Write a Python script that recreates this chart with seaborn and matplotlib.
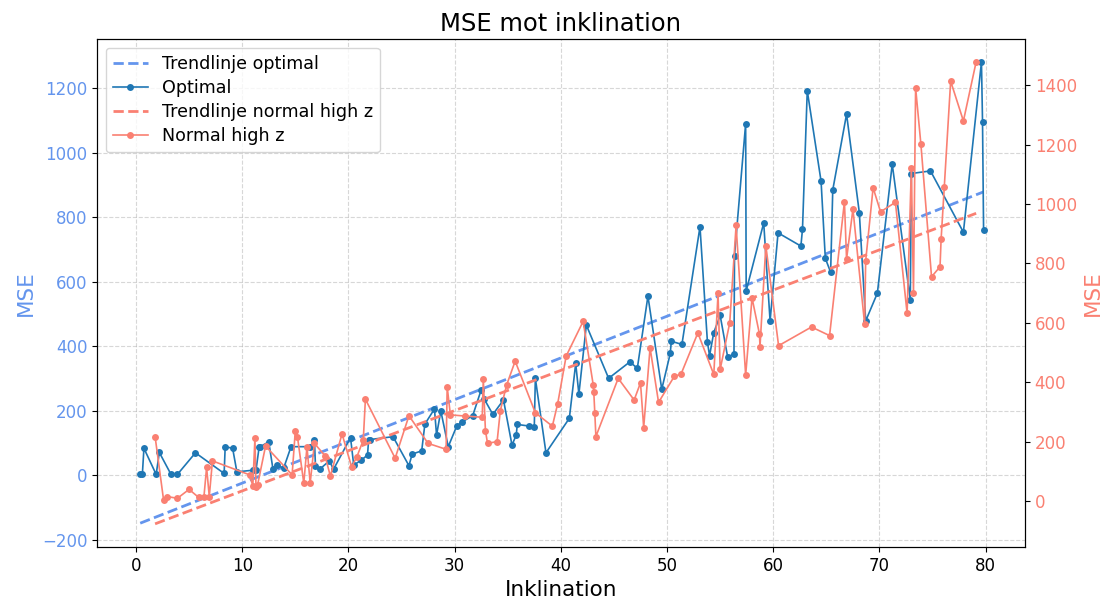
import numpy as np
import pandas as pd
import seaborn as sns
import matplotlib.pyplot as plt

# Optimal (left axis)
opt_x = [0.4, 0.6, 0.75, 1.9, 2.2, 3.3, 3.9, 5.6, 8.3, 8.4, 9.1, 9.5, 11.0, 11.3, 11.6, 11.7,
         12.5, 12.9, 13.3, 13.9, 14.6, 16.4, 16.8, 16.9, 17.3, 18.2, 18.6, 20.2, 20.5, 21.2,
         21.8, 21.9, 22.0, 24.2, 25.7, 26.0, 26.9, 27.2, 28.1, 28.3, 28.7, 29.4, 30.2, 30.7,
         31.7, 32.5, 32.8, 33.6, 34.6, 35.4, 35.8, 35.9, 37.0, 37.5, 37.6, 38.6, 40.8, 41.4,
         41.7, 42.4, 44.5, 46.5, 47.2, 48.2, 49.5, 50.3, 50.4, 51.4, 53.1, 53.8, 54.0, 54.4,
         55.0, 55.7, 56.3, 56.35, 57.4, 57.45, 59.1, 59.7, 60.45, 62.6, 62.75, 63.2, 64.5,
         64.9, 65.4, 65.6, 66.9, 68.1, 68.7, 69.8, 71.2, 72.9, 73.0, 74.8, 77.9, 79.6, 79.7, 79.8]
opt_mse = [2, 2, 83, 2, 70, 2, 2, 69, 5, 88, 83, 10, 15, 15, 88, 88,
           103, 18, 31, 21, 88, 88, 110, 28, 18, 44, 18, 116, 31, 46,
           62, 108, 110, 119, 29, 65, 75, 158, 205, 124, 199, 88, 152, 165,
           184, 264, 235, 188, 233, 93, 124, 157, 152, 150, 300, 69, 176, 346,
           251, 465, 300, 351, 331, 555, 266, 377, 415, 405, 770, 413, 370, 442,
           495, 367, 374, 680, 1090, 571, 782, 478, 751, 710, 762, 1192, 911,
           672, 629, 884, 1119, 814, 478, 564, 964, 543, 935, 943, 753, 1281, 1096, 760]

# Normal high z (right axis)
high_x = [1.8, 2.6, 2.9, 3.9, 5.0, 5.9, 6.4, 6.65, 6.9, 7.2, 10.7, 11.0, 11.2, 11.3, 11.45,
          12.2, 14.7, 15.0, 15.2, 15.8, 16.1, 16.4, 16.8, 17.8, 18.3, 19.4, 20.3, 20.8, 21.4,
          21.6, 24.4, 25.7, 27.5, 29.2, 29.3, 29.6, 31.0, 32.6, 32.7, 32.9, 33.1, 34.0, 34.3,
          34.9, 35.7, 37.6, 39.2, 39.7, 40.5, 42.1, 43.05, 43.1, 43.2, 43.3, 45.4, 46.9, 47.5,
          47.8, 48.4, 49.2, 50.7, 51.3, 52.9, 54.4, 54.8, 55.0, 55.9, 56.5, 57.4, 58.0, 58.7,
          58.75, 59.3, 60.5, 63.6, 65.3, 66.7, 66.9, 67.5, 68.6, 68.7, 69.4, 70.1, 71.5, 72.6,
          73.0, 73.2, 73.4, 73.9, 74.9, 75.7, 75.8, 76.1, 76.7, 77.9, 79.1]
high_mse = [217, 3, 15, 9, 39, 12, 15, 113, 15, 135, 88, 51, 211, 48, 54,
            185, 88, 236, 217, 60, 183, 60, 194, 152, 84, 226, 115, 149, 205,
            343, 144, 287, 194, 174, 385, 290, 286, 282, 410, 237, 194, 200, 304,
            391, 471, 297, 252, 327, 488, 605, 391, 368, 295, 217, 413, 340, 398,
            247, 516, 332, 421, 426, 566, 426, 699, 443, 600, 928, 424, 684, 562,
            520, 860, 523, 586, 557, 1008, 815, 983, 596, 809, 1055, 974, 1006, 632,
            1122, 701, 1392, 1201, 755, 789, 881, 1058, 1414, 1280, 1479]

opt_df = pd.DataFrame({"inkl": opt_x, "mse": opt_mse})
high_df = pd.DataFrame({"inkl": high_x, "mse": high_mse})

# linear trendlines
k1, m1 = np.polyfit(opt_df["inkl"], opt_df["mse"], 1)
k2, m2 = np.polyfit(high_df["inkl"], high_df["mse"], 1)
t1 = np.linspace(opt_df["inkl"].min(), opt_df["inkl"].max(), 100)
t2 = np.linspace(high_df["inkl"].min(), high_df["inkl"].max(), 100)

blue_trend = "#6495ED"
blue = "#1f77b4"
red = "#FA8072"

fig = plt.figure(figsize=(11.11, 6.05), dpi=100)
ax1 = fig.add_axes([0.0873, 0.0959, 0.8353, 0.8396])
ax2 = ax1.twinx()

ax1.plot(t1, k1 * t1 + m1, "--", color=blue_trend, linewidth=2, label="Trendlinje optimal")
sns.lineplot(data=opt_df, x="inkl", y="mse", ax=ax1, sort=False, estimator=None,
             color=blue, marker="o", markersize=5, markeredgewidth=0, linewidth=1.2,
             label="Optimal")

ax2.plot(t2, k2 * t2 + m2, "--", color=red, linewidth=2, label="Trendlinje normal high z")
sns.lineplot(data=high_df, x="inkl", y="mse", ax=ax2, sort=False, estimator=None,
             color=red, marker="o", markersize=5, markeredgewidth=0, linewidth=1.2,
             label="Normal high z")

ax1.set_title("MSE mot inklination", fontsize=17.5)
ax1.set_xlabel("Inklination", fontsize=15.5)
ax1.set_ylabel("MSE", color=blue_trend, fontsize=15.5)
ax2.set_ylabel("MSE", color=red, fontsize=15.5)
ax1.tick_params(axis="y", labelcolor=blue_trend, labelsize=12)
ax2.tick_params(axis="y", labelcolor=red, labelsize=12)
ax1.tick_params(axis="x", labelsize=12)
ax1.set_xticks(range(0, 81, 10))
ax1.set_yticks(range(-200, 1201, 200))
ax2.set_yticks(range(0, 1401, 200))
ax1.set_xlim(-3.67, 83.7)
ax1.set_ylim(-223, 1352)
ax2.set_ylim(-155, 1556)
ax1.grid(True, linestyle="--", alpha=0.5)

h1, l1 = ax1.get_legend_handles_labels()
h2, l2 = ax2.get_legend_handles_labels()
if ax2.get_legend():
    ax2.get_legend().remove()
ax1.legend(h1 + h2, l1 + l2, loc="upper left", fontsize=12.6, labelspacing=0.35)

fig.savefig("out.png", dpi=100)
